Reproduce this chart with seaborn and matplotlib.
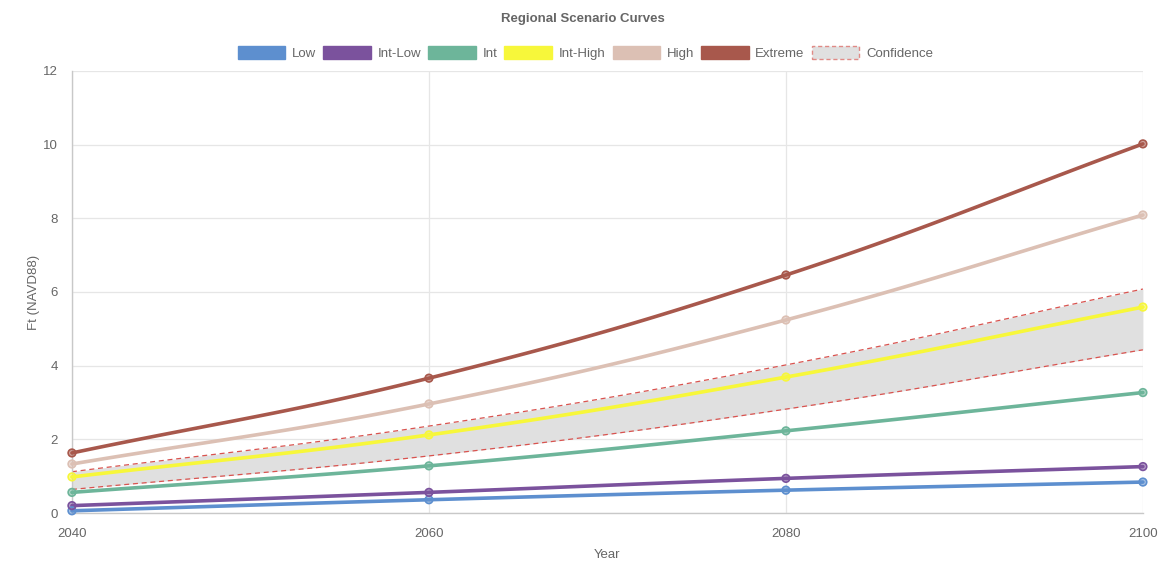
import numpy as np
import pandas as pd
import matplotlib
matplotlib.use("Agg")
import matplotlib.pyplot as plt
from matplotlib.patches import Patch
import seaborn as sns

years = [2040, 2060, 2080, 2100]
low = [0.06, 0.36, 0.62, 0.84]
int_low = [0.20, 0.56, 0.94, 1.26]
intermediate = [0.56, 1.28, 2.23, 3.27]
int_high = [0.98, 2.12, 3.69, 5.59]
high = [1.33, 2.96, 5.24, 8.09]
extreme = [1.63, 3.66, 6.46, 10.02]
conf_upper = [1.12, 2.36, 4.02, 6.08]
conf_lower = [0.64, 1.55, 2.82, 4.43]

series_names = ["Low", "Int-Low", "Int", "Int-High", "High", "Extreme"]
series_values = [low, int_low, intermediate, int_high, high, extreme]
series_colors = ["#5d8fcf", "#7b529d", "#6db59a", "#f7f73a", "#dcc0b4", "#a8584c"]

sns.set_theme(style="white")
plt.rcParams["font.family"] = ["Liberation Sans", "DejaVu Sans"]

fig = plt.figure(figsize=(11.66, 5.63), dpi=100)
ax = fig.add_axes([0.0617, 0.0888, 0.9185, 0.7852])

# scale factors (display units per data unit) used to smooth the curves
SX, SY = 1071 / 60, 442 / 12


def smooth(xs, ys, tension=0.4, n=40):
    """Cubic Bezier smoothing through the given points (spline-style)."""
    px = np.asarray(xs, float) * SX
    py = np.asarray(ys, float) * SY
    m = len(px)
    cps = []
    for i in range(m):
        prev = max(i - 1, 0)
        nxt = min(i + 1, m - 1)
        d01 = np.hypot(px[i] - px[prev], py[i] - py[prev])
        d12 = np.hypot(px[nxt] - px[i], py[nxt] - py[i])
        tot = d01 + d12 if d01 + d12 > 0 else 1
        fa = tension * d01 / tot
        fb = tension * d12 / tot
        dx, dy = px[nxt] - px[prev], py[nxt] - py[prev]
        cps.append(((px[i] - fa * dx, py[i] - fa * dy), (px[i] + fb * dx, py[i] + fb * dy)))
    outx, outy = [], []
    t = np.linspace(0, 1, n)
    for i in range(m - 1):
        p0 = np.array([px[i], py[i]])
        p1 = np.array(cps[i][1])
        p2 = np.array(cps[i + 1][0])
        p3 = np.array([px[i + 1], py[i + 1]])
        pts = ((1 - t) ** 3)[:, None] * p0 + (3 * (1 - t) ** 2 * t)[:, None] * p1 \
            + (3 * (1 - t) * t ** 2)[:, None] * p2 + (t ** 3)[:, None] * p3
        outx.extend(pts[:, 0] / SX)
        outy.extend(pts[:, 1] / SY)
    return np.array(outx), np.array(outy)


# confidence band
ux, uy = smooth(years, conf_upper)
lx, ly = smooth(years, conf_lower)
ax.fill_between(ux, ly, uy, color="#e0e0e0", zorder=1, linewidth=0)
ax.plot(ux, uy, color="#d9534f", lw=0.9, ls=(0, (4, 3)), zorder=2)
ax.plot(lx, ly, color="#d9534f", lw=0.9, ls=(0, (4, 3)), zorder=2)

# scenario curves
for name, vals, col in zip(series_names, series_values, series_colors):
    sx, sy = smooth(years, vals)
    ax.plot(sx, sy, color=col, lw=2.6, zorder=3, solid_capstyle="round", clip_on=False)

pts = pd.DataFrame(
    [(y, v, n) for n, vals in zip(series_names, series_values) for y, v in zip(years, vals)],
    columns=["Year", "Ft", "Scenario"],
)
sns.scatterplot(
    data=pts, x="Year", y="Ft", hue="Scenario", hue_order=series_names,
    palette=series_colors, s=30, alpha=0.55, edgecolor=None, linewidth=0,
    legend=False, zorder=4, ax=ax, clip_on=False,
)
for name, vals, col in zip(series_names, series_values, series_colors):
    ax.scatter(years, vals, s=30, facecolor="none", edgecolor=col, linewidth=1.2,
               zorder=5, clip_on=False)

ax.set_xlim(2040, 2100)
ax.set_ylim(0, 12)
ax.set_xticks(years)
ax.set_yticks(range(0, 13, 2))
ax.grid(True, color="#e6e6e6", lw=0.9)
ax.set_axisbelow(True)
for side in ["top", "right"]:
    ax.spines[side].set_visible(False)
for side in ["left", "bottom"]:
    ax.spines[side].set_color("#c8c8c8")
    ax.spines[side].set_linewidth(1.0)
ax.tick_params(axis="both", colors="#666666", labelsize=9.5, length=8, width=0.9,
               direction="out")
ax.tick_params(axis="x", length=8, color="#e6e6e6", pad=3)
ax.tick_params(axis="y", color="#e6e6e6", pad=2)
ax.set_xlabel("Year", color="#666666", fontsize=9.5, labelpad=6)
ax.set_ylabel("Ft (NAVD88)", color="#666666", fontsize=9.5, labelpad=2)

fig.suptitle("Regional Scenario Curves", y=0.977, fontsize=9.5, fontweight="bold",
             color="#666666")

handles = [Patch(facecolor=c, edgecolor=c, label=n) for n, c in zip(series_names, series_colors)]
handles.append(Patch(facecolor="#e0e0e0", edgecolor="#e08a86", linestyle=(0, (3, 2)),
                     linewidth=1.0, label="Confidence"))
fig.legend(handles=handles, loc="center", bbox_to_anchor=(0.502, 0.906), ncol=7,
           frameon=False, fontsize=9.5, handlelength=3.6, handleheight=1.2,
           handletextpad=0.5, columnspacing=0.55, labelcolor="#666666")

fig.savefig("out.png", dpi=100)
